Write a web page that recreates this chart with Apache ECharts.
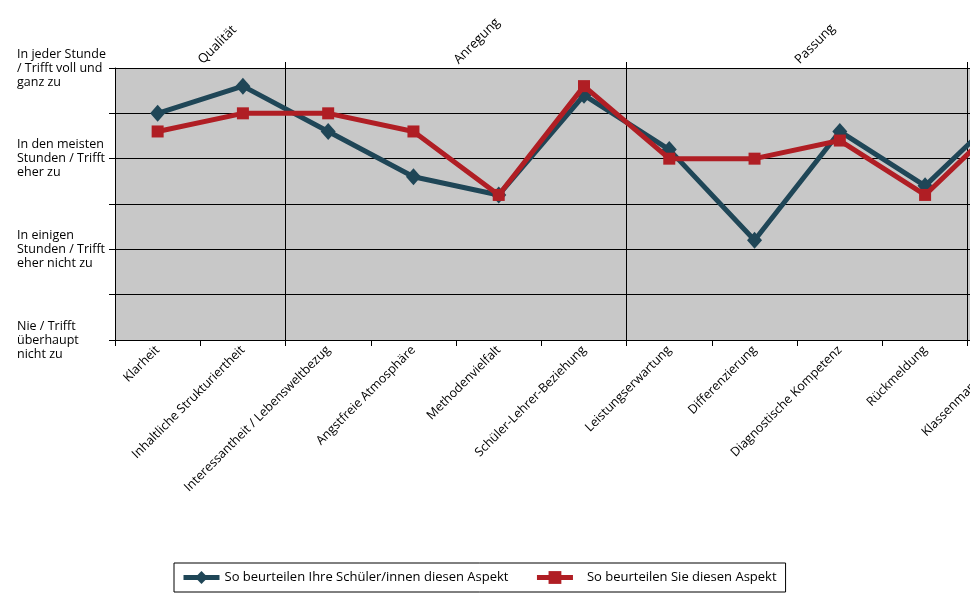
<!DOCTYPE html>
<html>
<head>
<meta charset="utf-8">
<script src="https://cdn.jsdelivr.net/npm/echarts@6/dist/echarts.min.js"></script>
<style>html,body{margin:0;padding:0;background:#fff}#c{width:970px;height:600px}</style>
</head>
<body>
<div id="c"></div>
<script>
const categories = ['Klarheit','Inhaltliche Strukturiertheit','Interessantheit / Lebensweltbezug','Angstfreie Atmosphäre','Methodenvielfalt','Schüler-Lehrer-Beziehung','Leistungserwartung','Differenzierung','Diagnostische Kompetenz','Rückmeldung','Klassenmanagement'];
const schuelerValues = [3.5, 3.8, 3.3, 2.8, 2.6, 3.7, 3.1, 2.1, 3.3, 2.7, 3.6];
const lehrerValues = [3.3, 3.5, 3.5, 3.3, 2.6, 3.8, 3.0, 3.0, 3.2, 2.6, 3.5];
const seriesNames = ['So beurteilen Ihre Schüler/innen diesen Aspekt','So beurteilen Sie diesen Aspekt'];
const yTickLabels = {4:'In jeder Stunde\n/ Trifft voll und\nganz zu', 3:'In den meisten\nStunden / Trifft\neher zu', 2:'In einigen\nStunden / Trifft\neher nicht zu', 1:'Nie / Trifft\nüberhaupt\nnicht zu'};
const groupNames = ['Qualität','Anregung','Passung'];
const groupCenters = [1, 4, 8];
const groupBoundaries = [2, 6, 10];

const font = 'Open Sans';
const darkColor = '#1f4657';
const redColor = '#b01e24';
const chart = echarts.init(document.getElementById('c'));
chart.setOption({
  animation: false,
  textStyle: {fontFamily: font},
  grid: {left: 115, top: 68, width: 938, height: 272, show: true, backgroundColor: '#c8c8c8', borderWidth: 0, containLabel: false, outerBoundsMode: 'none'},
  legend: {
    left: 174, top: 563, orient: 'horizontal',
    borderColor: '#000', borderWidth: 1, padding: [8, 9, 8, 7],
    itemWidth: 36, itemHeight: 16, itemGap: 26,
    textStyle: {fontFamily: font, fontSize: 13, color: '#000'},
    lineStyle: {width: 5},
    data: [
      {name: seriesNames[0], itemStyle: {color: darkColor}, lineStyle: {width: 5, color: darkColor}},
      {name: seriesNames[1], itemStyle: {color: redColor}, lineStyle: {width: 5, color: redColor}, textStyle: {padding: [0, 0, 0, 9]}}
    ]
  },
  xAxis: [{
    type: 'category', position: 'bottom', data: categories, boundaryGap: true,
    axisLine: {lineStyle: {color: '#000', width: 1}},
    axisTick: {show: true, length: 6, lineStyle: {color: '#000'}},
    axisLabel: {rotate: 45, interval: 0, margin: 8, fontSize: 12.5, color: '#000', fontFamily: font},
    splitLine: {show: true, interval: (i) => groupBoundaries.includes(i), lineStyle: {color: '#000', width: 1}}
  }, {
    type: 'category', position: 'top', data: categories, boundaryGap: true,
    axisLine: {show: false},
    axisTick: {show: true, length: 6, interval: (i) => groupBoundaries.includes(i), lineStyle: {color: '#000'}},
    axisLabel: {show: false},
    splitLine: {show: false}
  }, {
    type: 'value', position: 'top', min: 0, max: categories.length, interval: 1,
    axisLine: {show: false}, axisTick: {show: false}, splitLine: {show: false},
    axisLabel: {
      rotate: -45, margin: 6, fontSize: 13, color: '#000', fontFamily: font,
      showMinLabel: true, showMaxLabel: true,
      formatter: (v) => { const k = groupCenters.indexOf(v); return k >= 0 ? groupNames[k] : ''; }
    }
  }],
  yAxis: {
    type: 'value', min: 1, max: 4, interval: 0.5,
    axisLine: {show: true, lineStyle: {color: '#000', width: 1}},
    axisTick: {show: true, length: 6, lineStyle: {color: '#000'}},
    splitLine: {show: true, lineStyle: {color: '#000', width: 1}},
    axisLabel: {
      align: 'left', margin: 98, fontSize: 12.5, lineHeight: 14, color: '#000', fontFamily: font,
      formatter: (v) => yTickLabels[v] || ''
    }
  },
  series: [{
    name: seriesNames[0], type: 'line', data: schuelerValues, xAxisIndex: 0,
    symbol: 'diamond', symbolSize: [15, 17], z: 3,
    lineStyle: {color: darkColor, width: 5}, itemStyle: {color: darkColor}
  }, {
    name: seriesNames[1], type: 'line', data: lehrerValues, xAxisIndex: 0,
    symbol: 'rect', symbolSize: 12, z: 4,
    lineStyle: {color: redColor, width: 5}, itemStyle: {color: redColor}
  }]
});
</script>
</body>
</html>
